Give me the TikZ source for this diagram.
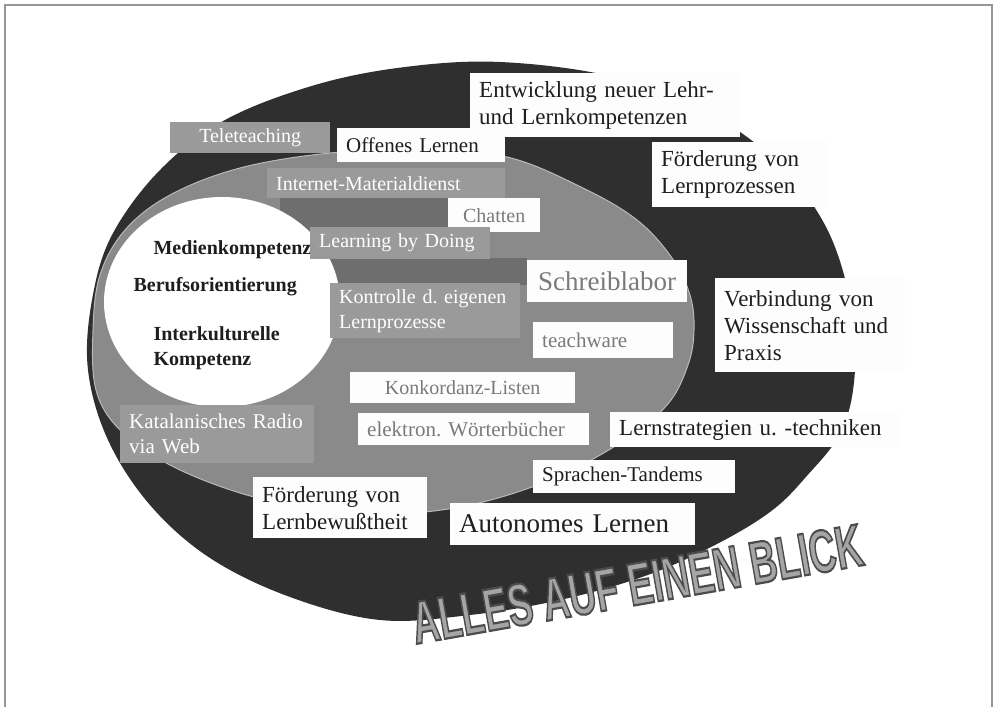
\documentclass[tikz,border=0pt]{standalone}
\usepackage{fontspec}
\setmainfont{Liberation Serif}
\setsansfont{Liberation Sans}
\definecolor{outerring}{RGB}{47,47,47}
\definecolor{midring}{RGB}{138,138,138}
\definecolor{band}{RGB}{110,110,110}
\definecolor{tagbg}{RGB}{154,154,154}
\definecolor{paper}{RGB}{253,253,253}
\definecolor{ink}{RGB}{30,30,30}
\definecolor{faint}{RGB}{122,122,122}
\definecolor{frame}{RGB}{150,150,150}
\definecolor{wordart}{RGB}{165,165,165}

\begin{document}
\frenchspacing
\hyphenpenalty=10000
\exhyphenpenalty=10000
\begin{tikzpicture}[x=1pt,y=-1pt,
    wbox/.style={fill=paper,text=ink,anchor=north west,align=left,inner xsep=9pt,inner ysep=0pt},
    gbox/.style={wbox,fill=tagbg,text=white},
    pale/.style={text=faint},
    sz20/.style={font=\fontsize{20}{25}\selectfont},
    sz21/.style={font=\fontsize{21}{25}\selectfont},
    sz23/.style={font=\fontsize{23}{27}\selectfont},
    sz27/.style={font=\fontsize{27}{30}\selectfont},
    core/.style={anchor=west,align=left,text=ink,font=\fontsize{20}{25}\selectfont\bfseries}]
    \useasboundingbox (0,0) rectangle (994,707);
    % frame
    \draw[frame,line width=1.5pt] (5,707) -- (5,5) -- (992,5) -- (992,707);

    % outer dark ring
    \fill[outerring] plot[smooth cycle,tension=0.6] coordinates {
      (500,62) (610,76) (700,108) (775,160) (825,225) (850,300) (855,370)
      (842,430) (805,478) (770,512) (715,545) (645,576) (560,600) (470,615)
      (380,620) (290,597) (210,558) (150,505) (108,440) (88,370) (92,300)
      (112,235) (160,170) (225,120) (315,85) (405,67)};
    % middle gray ring
    \fill[midring,draw=gray!55,line width=1pt] plot[smooth cycle,tension=0.6] coordinates {
      (420,150) (507,157) (583,188) (637,220) (672,258) (690,295) (694,330)
      (688,365) (667,405) (620,443) (550,480) (470,505) (390,514) (310,508)
      (240,493) (170,465) (120,430) (96,390) (93,330) (100,275) (125,230)
      (170,195) (240,168) (330,153)};
    \fill[band] (280,197) rectangle (490,285);
    \fill[band] (490,258) rectangle (527,285);
    % inner white core
    \fill[white] (222,302) ellipse [x radius=118, y radius=105];

    \node[core] (medien) at (150,250) {Medienkompetenz};
    \node[core] (beruf) at (130,287) {Berufsorientierung};
    \node[core] (interk) at (150,348) {Interkulturelle\\Kompetenz};

    % labels
    \node[gbox,sz20,align=center,text width=142,minimum height=31] (tele) at (170,122) {Teleteaching};
    \node[wbox,sz21,text width=150,minimum height=34] (offen) at (337,128) {Offenes Lernen};
    \node[wbox,sz23,text width=252,minimum height=64] (entw) at (470,73) {Entwicklung neuer Lehr-\\und Lernkompetenzen};
    \node[wbox,sz23,text width=160,minimum height=65] (prozess) at (652,142) {Förderung von\\Lernprozessen};
    \node[gbox,sz20,text width=220,minimum height=30] (inet) at (267,168) {Internet-Materialdienst};
    \node[wbox,pale,sz20,align=center,text width=74,minimum height=34] (chat) at (448,198) {Chatten};
    \node[gbox,sz20,text width=162,minimum height=32] (doing) at (310,227) {Learning by Doing};
    \node[gbox,sz20,text width=172,minimum height=55] (kontr) at (330,283) {Kontrolle d. eigenen\\Lernprozesse};
    \node[wbox,pale,sz27,align=center,text width=142,minimum height=42] (schreib) at (527,260) {Schreiblabor};
    \node[wbox,pale,sz21,text width=122,minimum height=36] (teach) at (533,322) {teachware};
    \node[wbox,sz23,text width=172,minimum height=94] (verb) at (715,278) {Verbindung von\\Wissenschaft und\\Praxis};
    \node[wbox,pale,sz20,align=center,text width=207,minimum height=31] (konk) at (350,372) {Konkordanz-Listen};
    \node[wbox,pale,sz21,text width=213,minimum height=32] (elek) at (358,413) {elektron. Wörterbücher};
    \node[wbox,sz23,text width=272,minimum height=35] (strat) at (610,412) {Lernstrategien u. -techniken};
    \node[gbox,sz21,text width=176,minimum height=58] (radio) at (120,405) {Katalanisches Radio\\via Web};
    \node[wbox,sz21,text width=184,minimum height=33] (tandem) at (533,460) {Sprachen-Tandems};
    \node[wbox,sz23,text width=156,minimum height=61] (bewusst) at (253,477) {Förderung von\\Lernbewußtheit};
    \node[wbox,sz27,text width=227,minimum height=42] (auto) at (450,503) {Autonomes Lernen};

    % title word art, filled and stroked
    \node[rotate=10,xscale=0.62,text=wordart,font=\sffamily\bfseries\fontsize{60}{60}\selectfont] (title) at (637,584)
      {\special{pdf:literal direct 2 Tr 2.2 w 0.3 G}ALLES AUF EINEN BLICK\special{pdf:literal direct 0 Tr}};
\end{tikzpicture}
\end{document}
